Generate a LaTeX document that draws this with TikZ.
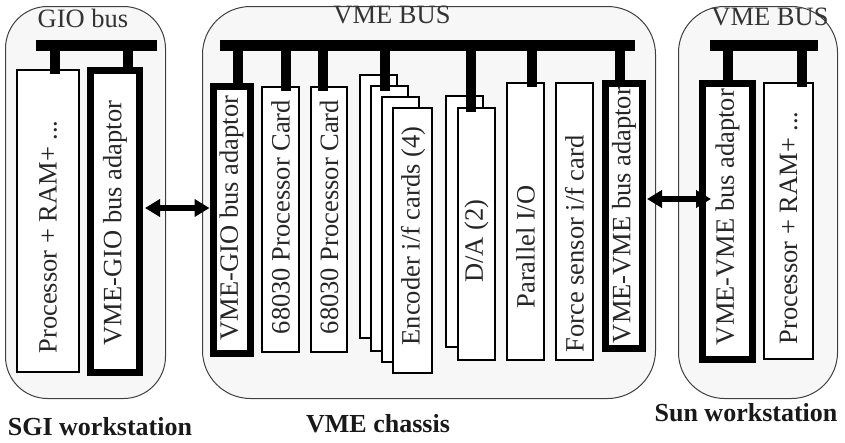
\documentclass[tikz,border=0pt]{standalone}
\usepackage{fontspec}
\setmainfont{Liberation Serif}
\usetikzlibrary{arrows.meta}
\begin{document}
\begin{tikzpicture}[x=1pt,y=-1pt,
  box/.style={draw=black!75, fill=black!3, line width=1pt, rounded corners=42pt, inner sep=0pt, anchor=north west},
  card/.style={draw=black, fill=white, line width=1.8pt, inner sep=0pt},
  thickcard/.style={card, line width=7pt},
  lbl/.style={rotate=90, font=\fontsize{26.5}{30}\selectfont, text=black!85, inner sep=0pt},
  ttl/.style={font=\fontsize{26.5}{30}\selectfont, text=black!80, inner sep=0pt, anchor=base},
  capt/.style={font=\fontsize{26}{30}\selectfont\bfseries, text=black!90, inner sep=0pt, anchor=base},
  busbar/.style={fill=black, inner sep=0pt, minimum height=11pt},
  stub/.style={line width=10pt},
  biarrow/.style={line width=5.5pt, {Triangle[length=15pt,width=17pt]}-{Triangle[length=15pt,width=17pt]}}
]
\useasboundingbox (0,0) rectangle (845,442);

% containers
\node[box, minimum width=160pt, minimum height=392pt] (sgi) at (5,6) {};
\node[box, minimum width=453pt, minimum height=392pt, rounded corners=48pt] (vme) at (202,6) {};
\node[box, minimum width=159pt, minimum height=392pt, rounded corners=46pt] (sun) at (678,6) {};

% titles
\node[ttl] (giot) at (83,27) {GIO bus};
\node[ttl] (vmet) at (392,23) {VME BUS};
\node[ttl] (sunt) at (770,25) {VME BUS};

% buses
\node[busbar, minimum width=121pt] (sgibus) at (96.5,45.5) {};
\node[busbar, minimum width=415pt] (vmebus) at (427.5,45.5) {};
\node[busbar, minimum width=108pt] (sunbus) at (764,45.5) {};

% stub x positions
\coordinate (x1) at (55,0);
\coordinate (x2) at (128,0);
\coordinate (x3) at (238,0);
\coordinate (x4) at (286,0);
\coordinate (x5) at (323,0);
\coordinate (x6) at (385,0);
\coordinate (x7) at (471,0);
\coordinate (x8) at (532,0);
\coordinate (x9) at (619.5,0);
\coordinate (x10) at (728,0);
\coordinate (x11) at (802,0);

% SGI cards
\node[card, minimum width=62pt, minimum height=302pt] (sgiproc) at (48,221) {};
\node[thickcard, minimum width=49pt, minimum height=302pt] (sgiad) at (115,221.5) {};

% VME cards
\node[thickcard, minimum width=37pt, minimum height=267pt] (gioad) at (231.5,220) {};
\node[card, minimum width=37pt, minimum height=265pt] (proc1) at (280.5,219.5) {};
\node[card, minimum width=36pt, minimum height=265pt] (proc2) at (329,219.5) {};
\node[card, minimum width=37pt, minimum height=263pt] (enc1) at (378.5,206.5) {};
\node[card, minimum width=37pt, minimum height=265pt] (enc2) at (389.5,218.5) {};
\node[card, minimum width=37pt, minimum height=265pt] (enc3) at (400.5,229.5) {};
\node[card, minimum width=39pt, minimum height=265pt] (enc4) at (412.5,240.5) {};
\node[card, minimum width=37pt, minimum height=251pt] (da1) at (464.5,221.5) {};
\node[card, minimum width=37pt, minimum height=252pt] (da2) at (476.5,234) {};
\node[card, minimum width=37pt, minimum height=277pt] (par) at (525.5,221.5) {};
\node[card, minimum width=37pt, minimum height=277pt] (force) at (574.5,221.5) {};
\node[thickcard, minimum width=37pt, minimum height=265pt] (vvad) at (624,216) {};

% Sun cards
\node[thickcard, minimum width=50pt, minimum height=276pt] (sunad) at (727.5,221.5) {};
\node[card, minimum width=49pt, minimum height=276pt] (sunproc) at (788.5,221) {};

% stubs
\draw[stub, shorten >=-5pt] (sgibus.center -| x1) -- (sgiproc.north -| x1);
\draw[stub, shorten >=-2pt] (sgibus.center -| x2) -- (sgiad.north -| x2);
\draw[stub, shorten >=-1pt] (vmebus.center -| x3) -- (gioad.north -| x3);
\draw[stub, shorten >=-5pt] (vmebus.center -| x4) -- (proc1.north -| x4);
\draw[stub, shorten >=-5pt] (vmebus.center -| x5) -- (proc2.north -| x5);
\draw[stub, shorten >=-6pt] (vmebus.center -| x6) -- (enc2.north -| x6);
\draw[stub, shorten >=-5pt] (vmebus.center -| x7) -- (da2.north -| x7);
\draw[stub, shorten >=-5pt] (vmebus.center -| x8) -- (par.north -| x8);
\draw[stub, shorten >=-1pt] (vmebus.center -| x9) -- (vvad.north -| x9);
\draw[stub, shorten >=-1pt] (sunbus.center -| x10) -- (sunad.north -| x10);
\draw[stub, shorten >=-5pt] (sunbus.center -| x11) -- (sunproc.north -| x11);

% card labels
\node[lbl] (tsgiproc) at (48,237) {Processor + RAM+ ...};
\node[lbl] (tsgiad) at (115,223) {VME-GIO bus adaptor};
\node[lbl] (tgioad) at (231.5,218) {VME-GIO bus adaptor};
\node[lbl] (tproc1) at (280.5,217) {68030 Processor Card};
\node[lbl] (tproc2) at (329,217) {68030 Processor Card};
\node[lbl] (tenc) at (413,236) {Encoder i/f cards (4)};
\node[lbl] (tda) at (476.5,241) {D/A (2)};
\node[lbl] (tpar) at (525.5,247) {Parallel I/O};
\node[lbl] (tforce) at (574.5,244) {Force sensor i/f card};
\node[lbl] (tvvad) at (624,215) {VME-VME bus adaptor};
\node[lbl] (tsunad) at (727.5,217) {VME-VME bus adaptor};
\node[lbl] (tsunproc) at (788.5,228) {Processor + RAM+ ...};

% links
\draw[biarrow, shorten <=2pt] ([yshift=13.5pt]sgiad.east) -- ([yshift=12pt]gioad.west);
\draw[biarrow, shorten <=1pt, shorten >=-12pt] ([yshift=17pt]vvad.east) -- ([yshift=22.5pt]sunad.west);

% captions
\node[capt] (sgicap) at (100,435) {SGI workstation};
\node[capt] (vmecap) at (378,432) {VME chassis};
\node[capt] (suncap) at (746,421) {Sun workstation};
\end{tikzpicture}
\end{document}
